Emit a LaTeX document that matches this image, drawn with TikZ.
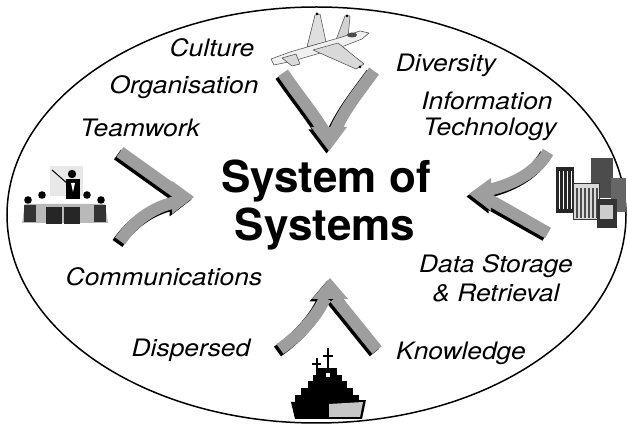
\documentclass[tikz,border=0pt]{standalone}
\usepackage{fontspec}
\newfontfamily\labelfont[FakeStretch=1.1]{TeX Gyre Heros}
\newfontfamily\headfont{TeX Gyre Heros}
\definecolor{armgray}{gray}{0.62}

% The four converging arrows (two arms + head each), painted in colour #1
\newcommand\sosarms[1]{%
  % top arrow, pointing down
  \draw[arm,#1] (283,73) .. controls (298,95) and (313,113) .. (324,131);
  \draw[arm,#1] (374,71) .. controls (362,88) and (345,108) .. (335,131);
  \fill[#1] (311,127) -- (347,127) -- (329,151) -- cycle;
  % left arrow, pointing right
  \draw[arm,#1] (120,152) -- (176,192);
  \draw[arm,#1] (120,241) .. controls (133,222) and (152,207) .. (176,202);
  \fill[#1] (172,181) -- (194,197) -- (172,214) -- cycle;
  % right arrow, pointing left
  \draw[arm,#1] (548,152) .. controls (537,172) and (512,185) .. (488,190);
  \draw[arm,#1] (548,233) -- (488,199);
  \fill[#1] (491,178) -- (469,194) -- (491,211) -- cycle;
  % bottom arrow, pointing up
  \draw[arm,#1] (280,349) .. controls (300,335) and (318,315) .. (325,298);
  \draw[arm,#1] (377,350) -- (335,298);
  \fill[#1] (312,299) -- (330,278) -- (348,299) -- cycle;
}

\begin{document}
\begin{tikzpicture}[x=1pt,y=-1pt,
  lbl/.style={font=\labelfont\itshape\fontsize{24}{28}\selectfont, anchor=base, inner sep=0pt},
  ttl/.style={font=\headfont\bfseries\fontsize{44}{48}\selectfont, anchor=base, inner sep=0pt},
  arm/.style={line width=12pt, line cap=butt},
  jet/.style={draw=gray!55!black, line width=0.5pt, line join=round},
]
\useasboundingbox (0,0) rectangle (627,430);
\fill[white] (0,0) rectangle (627,430);

% outer ellipse
\draw[line width=1.5pt] (316.5,215) ellipse [x radius=309.5, y radius=208];

% arrows: dark drop shadow, then grey body
\begin{scope}[shift={(-2.5,2.5)}]
  \sosarms{black}
\end{scope}
\sosarms{armgray}

% title
\node[ttl] (sys1) at (326,193) {System of};
\node[ttl] (sys2) at (325,241) {Systems};

% labels
\node[lbl] (culture)      at (212,57)  {Culture};
\node[lbl] (organisation) at (184,94)  {Organisation};
\node[lbl] (teamwork)     at (140,137) {Teamwork};
\node[lbl] (diversity)    at (446,72)  {Diversity};
\node[lbl] (information)  at (487,110) {Information};
\node[lbl] (technology)   at (490,136) {Technology};
\node[lbl] (comms)        at (164,286) {Communications};
\node[lbl] (datastorage)  at (496,273) {Data Storage};
\node[lbl] (retrieval)    at (496,302) {\& Retrieval};
\node[lbl] (dispersed)    at (191,357) {Dispersed};
\node[lbl] (knowledge)    at (461,360) {Knowledge};

% jet fighter
\filldraw[jet, fill=gray!25] (307,47) -- (315,15) -- (320,14) -- (326,42) -- cycle;
\filldraw[jet, fill=gray!35] (336,40) -- (345,16) -- (350,16) -- (348,38) -- cycle;
\filldraw[jet, fill=gray!12] (271,59) -- (290,52) -- (342,37) -- (360,31) -- (369,33)
  -- (362,39) -- (344,46) -- (293,61) -- (274,65) -- cycle;
\filldraw[jet, fill=gray!30] (313,50) -- (338,43) -- (364,64) -- (356,69) -- cycle;
\filldraw[jet, fill=gray!30] (282,58) -- (296,54) -- (300,64) -- (292,66) -- cycle;
\fill[gray!60!black] (352,35) ellipse [x radius=5, y radius=2.5];
\fill[black] (317,14) circle (1.5) (347,16) circle (1.5) (360,67) circle (1.5);

% teamwork group
\fill[gray!18] (50,166) rectangle (83,196);
\draw[line width=1pt] (52,170) -- (68,184);
\fill (72,174) circle (4.2);
\fill (66,179) rectangle (80,199);
\fill[white] (71,183) -- (75,183) -- (73,192) -- cycle;
\foreach \hx/\hy in {28/200, 42/195, 87/195, 101/200}
  \fill (\hx,\hy) circle (3.8);
\fill[gray!55] (25,204) -- (105,204) -- (108,223) -- (22,223) -- cycle;
\fill[black!80] (24,205) rectangle (36,222);
\fill[black!85] (46,207) rectangle (62,224);
\fill[black!85] (64,207) rectangle (80,224);
\fill[black!80] (94,205) rectangle (106,222);

% office buildings
\fill[black!70] (591,158) rectangle (613,198);
\fill[black!60] (611,178) rectangle (626,212);
\fill[black!85] (556,167) rectangle (574,213);
\foreach \wx in {559,563,567,571}
  \draw[white, line width=0.8pt] (\wx,171) -- (\wx,209);
\fill[gray!30] (573,183) rectangle (599,219);
\draw[black!80, line width=0.8pt] (573,183) rectangle (599,219);
\foreach \wx in {577,581,...,597}
  \draw[black!70, line width=1.2pt] (\wx,188) -- (\wx,218);
\fill[black!80] (597,199) rectangle (617,228);
\fill[gray!40] (600,205) rectangle (613,219);

% warship
\fill (316.2,358) rectangle (317.8,376);
\fill (312,363) rectangle (321,365);
\fill (327.2,348) rectangle (328.8,372);
\fill (323,355) rectangle (333,357);
\fill (318,368) rectangle (337,376);
\fill (313,375) rectangle (342,382);
\fill (308,381) rectangle (347,389);
\fill (301,388) rectangle (353,396);
\fill (295,395) rectangle (359,403);
\fill (291,402) -- (366,400) -- (362,419) -- (295,419) -- cycle;
\fill[gray!45] (329,404) -- (363,402) -- (360,417) -- (329,417) -- cycle;
\fill[white] (325.5,373) rectangle (329.5,377);
\end{tikzpicture}
\end{document}
